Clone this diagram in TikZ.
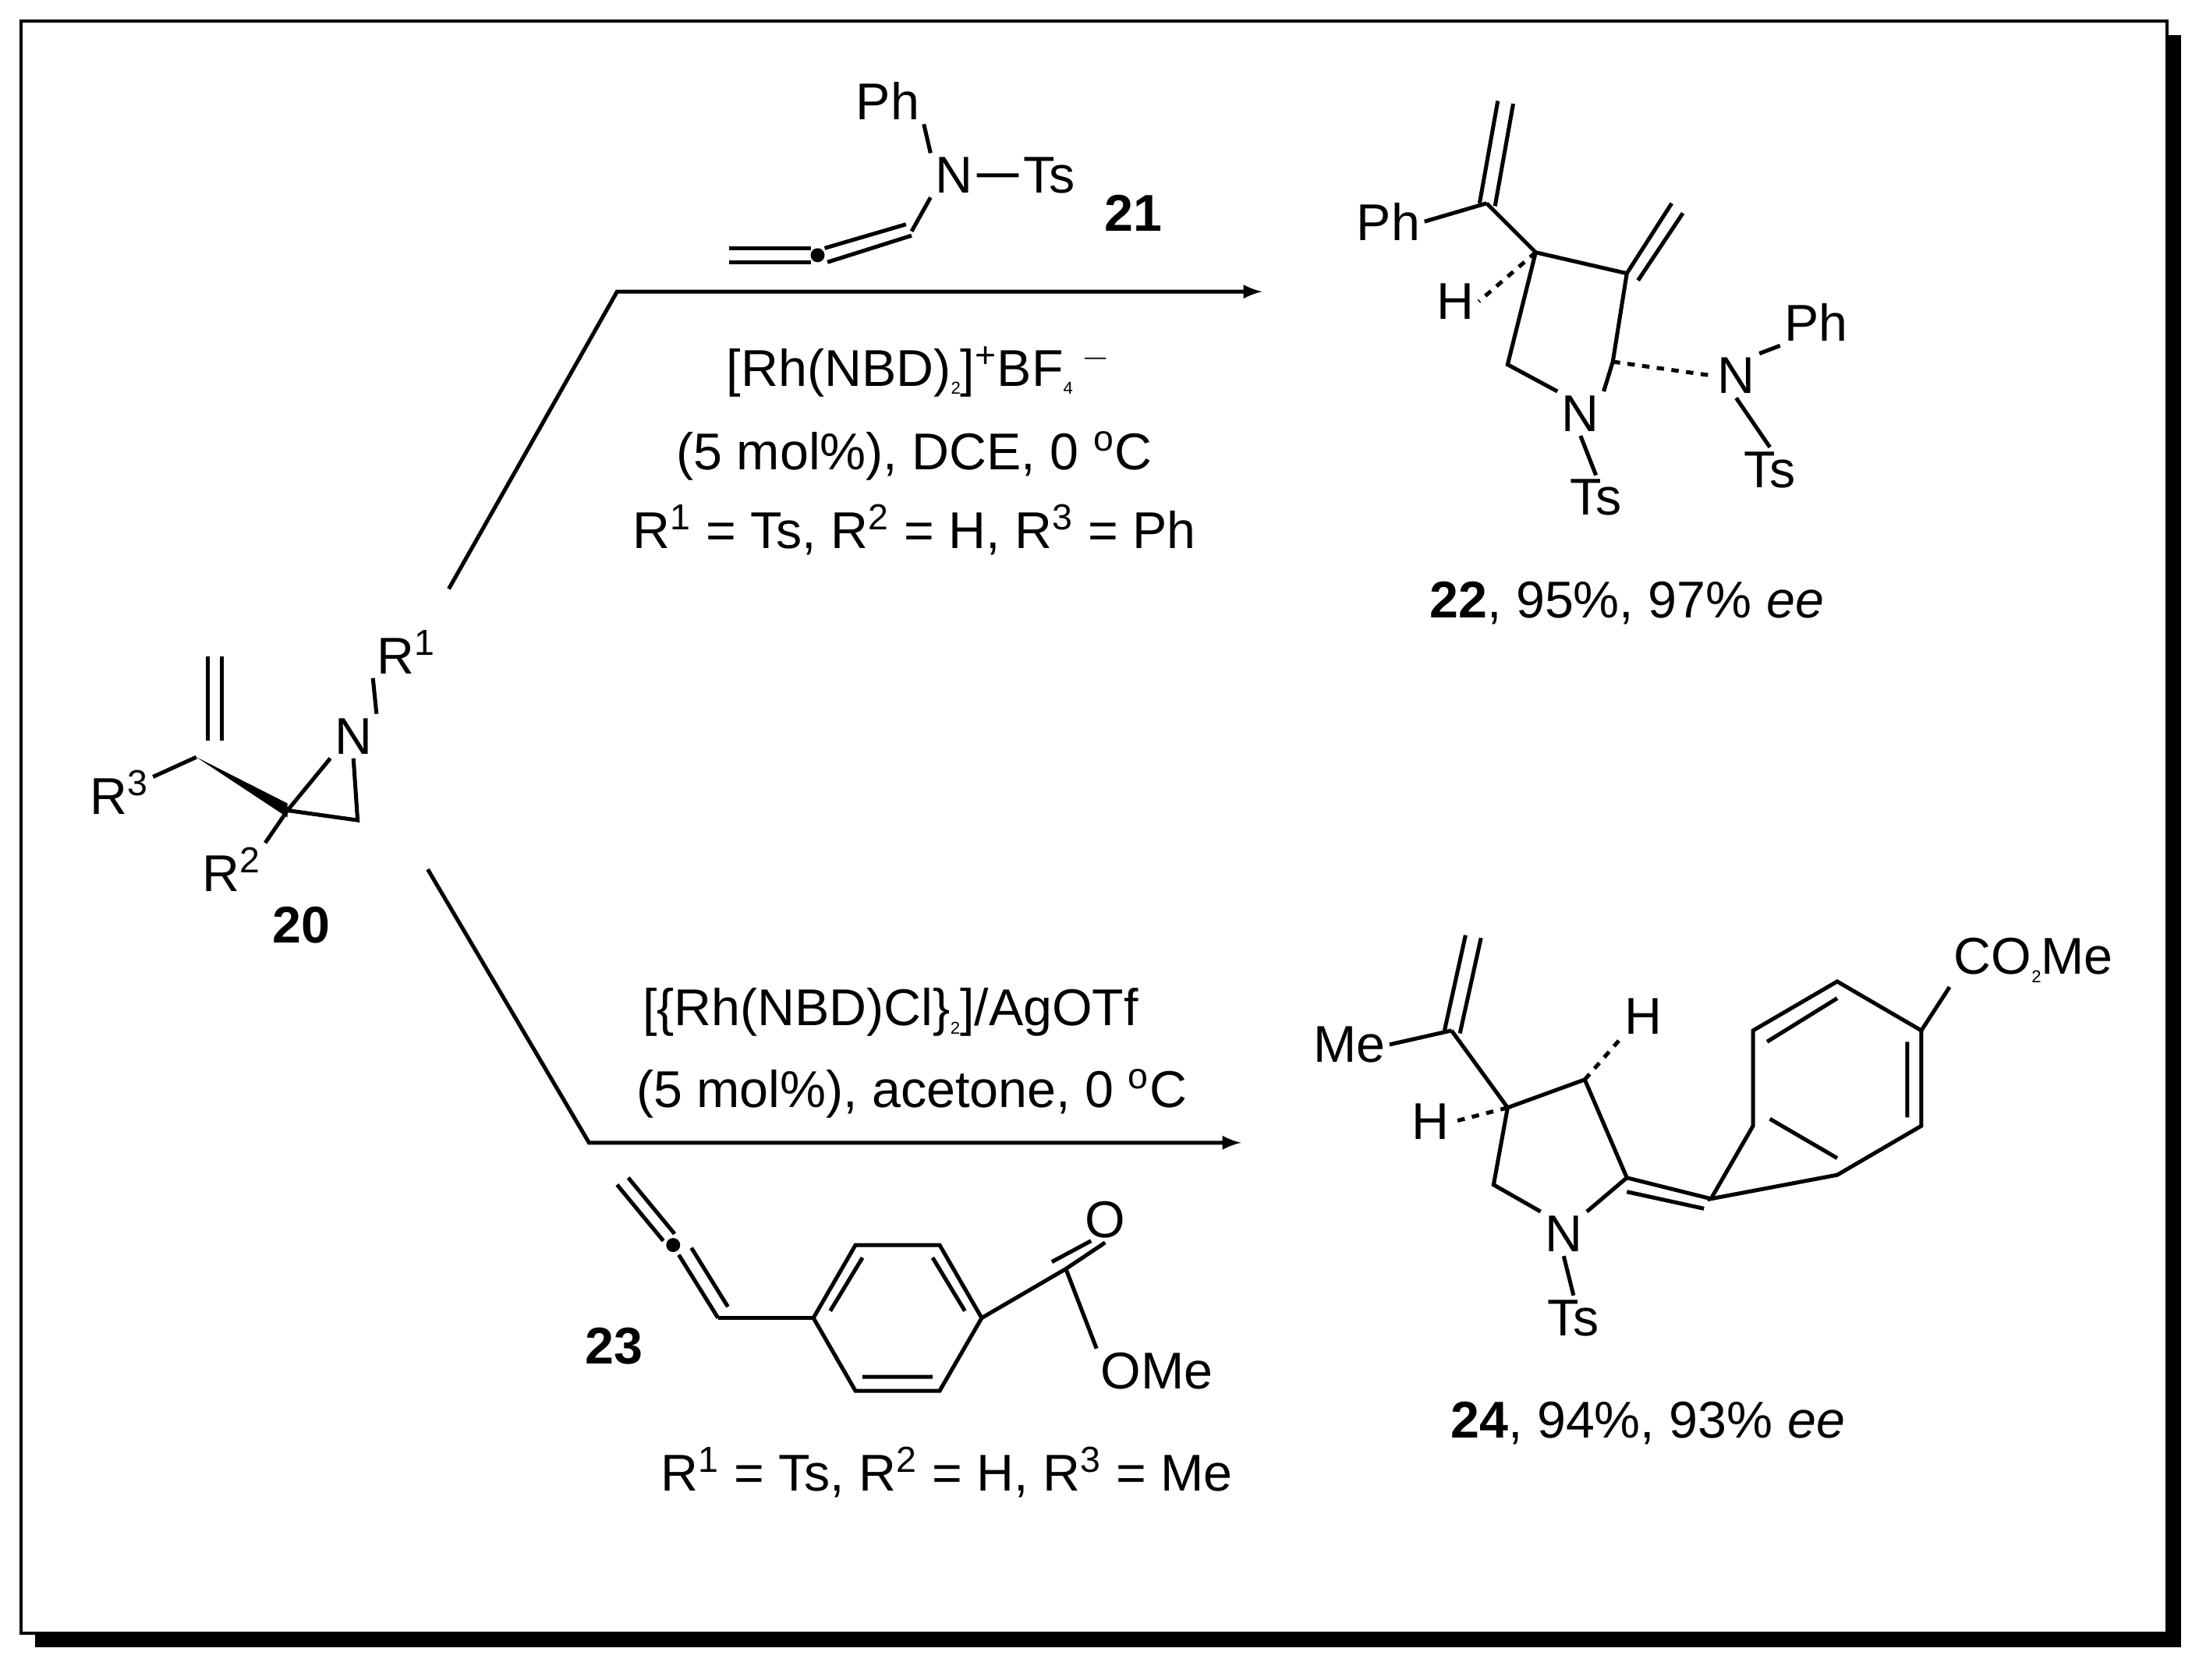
\documentclass[tikz,border=0pt]{standalone}
\usepackage{fontspec}
\usetikzlibrary{calc}
\setmainfont{Liberation Sans}
\newcommand{\sps}[1]{\textsuperscript{#1}}
\newcommand{\sbs}[1]{\raisebox{-0.3ex}{\scriptsize #1}}
\begin{document}
\begin{tikzpicture}[x=0.02cm,y=-0.02cm,line width=1.6pt,
  lbl/.style={font=\fontsize{21}{25}\selectfont,inner sep=1pt},
  arr/.style={-latex}]
\useasboundingbox (0,0) rectangle (1568,1198);
\fill[black] (25,25) rectangle (1555,1175);
\draw[fill=white,line width=1.2pt] (15,15) rectangle (1545,1165);
% compound 20
\node[lbl] (r3) at (85,565) {R\sps{3}};
\node[lbl] (n20) at (252,525) {N};
\node[lbl] (r1) at (290,465) {R\sps{1}};
\node[lbl] (r2) at (165,620) {R\sps{2}};
\node[lbl,font=\bfseries\fontsize{21}{25}\selectfont] (c20) at (215,660) {20};
\coordinate (va) at (140,540); \coordinate (qc) at (205,578);
\draw (148,468)--(148,528); \draw (158,468)--(158,528) ;
\draw (r3)--(va);
\fill (va)--($(qc)+(0,-5)$)--($(qc)+(0,5)$)--cycle;
\draw (qc)--(n20.south west) (n20.south)--(255,585)--(qc) (n20.north east)--(r1.south west) (qc)--(r2.north east);
% arrows
\draw[arr] (320,420)--(440,208)--(900,208);
\draw[arr] (305,620)--(420,815)--(885,815);
% reagent 21
\node[lbl] (ph21) at (633,72) {Ph};
\node[lbl] (nn21) at (680,125) {N};
\node[lbl] (ts21) at (748,125) {Ts};
\node[lbl,font=\bfseries\fontsize{21}{25}\selectfont] (l21) at (808,152) {21};
\draw (ph21.south east)--(nn21.north west) (nn21.east)--(ts21.west) (nn21.south west)--(650,165);
\draw (520,177)--(578,177) (520,187)--(578,187);
\fill (583,182) circle (5);
\draw (588,177)--(646,160) (590,187)--(650,168);
\node[lbl] (t1) at (655,265) {[Rh(NBD)\sbs{2}]\sps{+}BF\sbs{4}\,\sps{$-$}};
\node[lbl] (t2) at (652,325) {(5 mol\%), DCE, 0 \sps{o}C};
\node[lbl] (t3) at (652,378) {R\sps{1} = Ts, R\sps{2} = H, R\sps{3} = Ph};
% product 22
\node[lbl] (ph22) at (990,158) {Ph};
\node[lbl] (h22) at (1038,215) {H};
\node[lbl] (nn22) at (1127,295) {N};
\node[lbl] (ts22) at (1138,355) {Ts};
\node[lbl] (n22b) at (1238,268) {N};
\node[lbl] (ph22b) at (1295,230) {Ph};
\node[lbl] (ts22b) at (1262,335) {Ts};
\coordinate (a4) at (1095,180); \coordinate (a3) at (1160,195); \coordinate (a2) at (1150,258); \coordinate (a5) at (1075,260);
\draw (a4)--(a3)--(a2)--(nn22.north east) (nn22.north west)--(a5)--(a4);
\draw (1060,145)--(a4) (1060,145)--(ph22.east);
\draw (1055,145)--(1068,72) (1066,147)--(1079,74);
\draw (a3)--(1192,145) (1168,200)--(1200,152);
\draw[dashed] (a4)--(h22.east);
\draw[dashed] (a2)--(n22b.west);
\draw (nn22.south)--(ts22.north);
\draw (n22b.north east)--(ph22b.south west) (n22b.south)--(ts22b.north);
\node[lbl] (y22) at (1160,430) {\textbf{22}, 95\%, 97\% \textit{ee}};
% bottom conditions
\node[lbl] (t4) at (635,722) {[\{Rh(NBD)Cl\}\sbs{2}]/AgOTf};
\node[lbl] (t5) at (650,780) {(5 mol\%), acetone, 0 \sps{o}C};
% reagent 23
\node[lbl,font=\bfseries\fontsize{21}{25}\selectfont] (l23) at (438,960) {23};
\node[lbl] (o23) at (788,870) {O};
\node[lbl] (ome23) at (825,978) {OMe};
\draw (440,845)--(473,885) (448,840)--(481,880);
\fill (480,888) circle (5);
\draw (484,895)--(512,940) (493,890)--(519,932);
\draw (512,940)--(580,940);
\draw (580,940)--(610,888)--(670,888)--(700,940)--(670,992)--(610,992)--cycle;
\draw (592,935)--(615,897) (615,982)--(665,982) (688,935)--(665,897);
\draw (700,940)--(760,905) (760,905)--(ome23.north west);
\draw (760,905)--(o23.south) (750,900)--(778,885);
\node[lbl] (t6) at (675,1050) {R\sps{1} = Ts, R\sps{2} = H, R\sps{3} = Me};
% product 24
\node[lbl] (me24) at (962,745) {Me};
\node[lbl] (h24a) at (1020,800) {H};
\node[lbl] (h24b) at (1172,725) {H};
\node[lbl] (nn24) at (1115,880) {N};
\node[lbl] (ts24) at (1122,940) {Ts};
\node[lbl] (co24) at (1450,685) {CO\sbs{2}Me};
\coordinate (b4) at (1075,790); \coordinate (b3) at (1130,770); \coordinate (b2) at (1160,840); \coordinate (b5) at (1065,845);
\draw (b4)--(b3)--(b2)--(nn24.north east) (nn24.north west)--(b5)--(b4);
\draw (1035,735)--(b4) (1035,735)--(me24.east);
\draw (1030,735)--(1045,667) (1041,737)--(1056,669);
\draw[dashed] (b4)--(h24a.east);
\draw[dashed] (b3)--(h24b.south west);
\draw (nn24.south)--(ts24.north);
\draw (b2)--(1220,855) (1160,850)--(1215,862);
\draw (1220,855)--(1250,803)--(1250,735)--(1310,700)--(1370,735)--(1370,803)--(1310,838)--cycle;
\draw (1260,743)--(1310,712) (1360,743)--(1360,797) (1310,826)--(1262,798);
\draw (1370,735)--(co24.south west);
\node[lbl] (y24) at (1175,1015) {\textbf{24}, 94\%, 93\% \textit{ee}};
\end{tikzpicture}
\end{document}
